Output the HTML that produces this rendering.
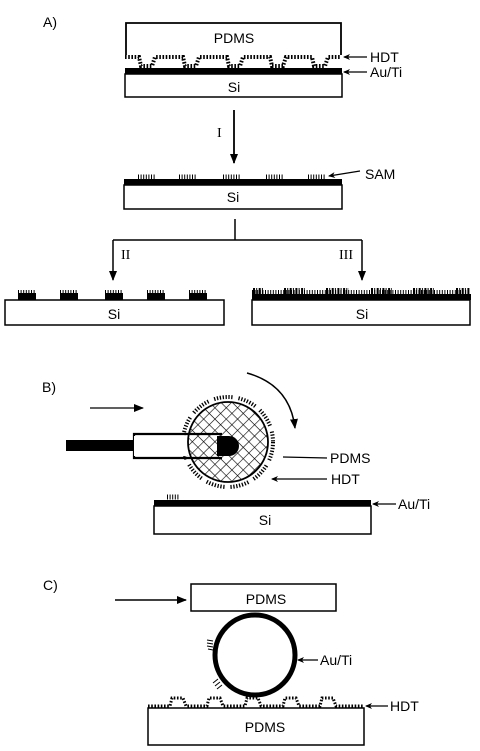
<!DOCTYPE html>
<html><head><meta charset="utf-8"><style>
html,body{margin:0;padding:0;background:#fff;}
svg{display:block;font-family:"Liberation Sans",sans-serif;}
text{font-size:14px;fill:#000;}
</style></head><body>
<svg width="480" height="751" viewBox="0 0 480 751" xmlns="http://www.w3.org/2000/svg">
<defs>
<marker id="ah" markerWidth="10" markerHeight="8" refX="9" refY="4" orient="auto" markerUnits="userSpaceOnUse"><path d="M0,0 L10,4 L0,8 Z" fill="#000"/></marker>
<marker id="ahs" markerWidth="7" markerHeight="6" refX="6" refY="3" orient="auto" markerUnits="userSpaceOnUse"><path d="M0,0 L7,3 L0,6 L2,3 Z" fill="#000"/></marker>
<pattern id="xh" width="8" height="8" patternUnits="userSpaceOnUse" patternTransform="rotate(45)"><path d="M0,0 H8 M0,0 V8" stroke="#000" stroke-width="1.2"/></pattern>
</defs>

<g>
<text x="43" y="27">A)</text>
<path d="M126,55 V23 H341 V55" fill="none" stroke="#000" stroke-width="1.8"/>
<text x="234" y="43" text-anchor="middle">PDMS</text>
<path d="M125,57 H139 L141,66 H152 L155,57 H183 L185,66 H196 L199,57 H227 L229,66 H240 L243,57 H270 L272,66 H283 L286,57 H312 L314,66 H325 L328,57 H341" fill="none" stroke="#000" stroke-width="4" stroke-dasharray="1.6 1.6"/>
<rect x="125" y="68" width="217" height="6" fill="#000"/>
<rect x="125" y="74" width="217" height="23" fill="#fff" stroke="#000" stroke-width="1.5"/>
<text x="234" y="92" text-anchor="middle">Si</text>
<line x1="367" y1="57" x2="344" y2="57" stroke="#000" stroke-width="1.2" marker-end="url(#ahs)"/>
<text x="370" y="62">HDT</text>
<line x1="367" y1="72" x2="344" y2="72" stroke="#000" stroke-width="1.2" marker-end="url(#ahs)"/>
<text x="370" y="77">Au/Ti</text>

<line x1="234" y1="110" x2="234" y2="163" stroke="#000" stroke-width="1.8" marker-end="url(#ah)"/>
<text x="217" y="137" style="font-family:'Liberation Serif',serif;font-size:14px">I</text>

<g stroke="#000" stroke-width="1" stroke-dasharray="1 1.6">
<line x1="138" y1="177" x2="156" y2="177" stroke-width="5"/>
<line x1="179" y1="177" x2="197" y2="177" stroke-width="5"/>
<line x1="223" y1="177" x2="241" y2="177" stroke-width="5"/>
<line x1="266" y1="177" x2="284" y2="177" stroke-width="5"/>
<line x1="308" y1="177" x2="326" y2="177" stroke-width="5"/>
</g>
<rect x="124" y="179" width="218" height="6" fill="#000"/>
<rect x="124" y="185" width="218" height="24" fill="#fff" stroke="#000" stroke-width="1.5"/>
<text x="233" y="202" text-anchor="middle">Si</text>
<line x1="360" y1="171" x2="329" y2="176" stroke="#000" stroke-width="1.2" marker-end="url(#ahs)"/>
<text x="365" y="179">SAM</text>

<path d="M235,219 V240 M113,240 H362" fill="none" stroke="#000" stroke-width="1.5"/>
<line x1="113" y1="240" x2="113" y2="280" stroke="#000" stroke-width="1.5" marker-end="url(#ah)"/>
<line x1="362" y1="240" x2="362" y2="280" stroke="#000" stroke-width="1.5" marker-end="url(#ah)"/>
<text x="121" y="259" style="font-family:'Liberation Serif',serif;font-size:14px">II</text>
<text x="339" y="259" style="font-family:'Liberation Serif',serif;font-size:14px">III</text>

<g>
<rect x="18" y="293" width="18" height="7" fill="#000"/><rect x="60" y="293" width="18" height="7" fill="#000"/><rect x="105" y="293" width="18" height="7" fill="#000"/><rect x="147" y="293" width="18" height="7" fill="#000"/><rect x="189" y="293" width="18" height="7" fill="#000"/>
<g stroke="#000" stroke-width="4" stroke-dasharray="1 1.6"><line x1="18" y1="292" x2="36" y2="292"/><line x1="60" y1="292" x2="78" y2="292"/><line x1="105" y1="292" x2="123" y2="292"/><line x1="147" y1="292" x2="165" y2="292"/><line x1="189" y1="292" x2="207" y2="292"/></g>
</g>
<rect x="5" y="300" width="219" height="25" fill="#fff" stroke="#000" stroke-width="1.5"/>
<text x="114" y="319" text-anchor="middle">Si</text>

<g>
<line x1="252" y1="292" x2="470" y2="292" stroke="#000" stroke-width="4" stroke-dasharray="1 1.6"/>
<g stroke="#000" stroke-width="6" stroke-dasharray="2 1.2 1 1.5"><line x1="253" y1="291" x2="263" y2="291"/><line x1="284" y1="291" x2="305" y2="291"/><line x1="326" y1="291" x2="349" y2="291"/><line x1="371" y1="291" x2="392" y2="291"/><line x1="413" y1="291" x2="434" y2="291"/><line x1="456" y1="291" x2="470" y2="291"/></g>
<rect x="252" y="294" width="219" height="6" fill="#000"/>
</g>
<rect x="252" y="300" width="218" height="25" fill="#fff" stroke="#000" stroke-width="1.5"/>
<text x="362" y="319" text-anchor="middle">Si</text>
</g>

<g>
<text x="42" y="392">B)</text>
<line x1="90" y1="408" x2="143" y2="408" stroke="#000" stroke-width="1.3" marker-end="url(#ah)"/>
<circle cx="228" cy="442" r="45" fill="none" stroke="#000" stroke-width="4" stroke-dasharray="1.3 1.6 1.3 1.6 1.3 1.6 1.3 1.6 1.3 1.6 1.3 1.6 1.3 6"/>
<circle cx="228" cy="442" r="40" fill="url(#xh)" stroke="#000" stroke-width="1.8"/>
<rect x="66" y="440" width="68" height="11" fill="#000"/>
<path d="M222,434 H134 V458 H222" fill="none" stroke="#000" stroke-width="2.2"/>
<rect x="134" y="436" width="53" height="20" fill="#fff"/>
<path d="M217,436 H229 A10,10 0 0 1 229,456 H217 Z" fill="#000"/>
<path d="M247,373 Q290,385 295,428" fill="none" stroke="#000" stroke-width="1.5" marker-end="url(#ah)"/>
<line x1="327" y1="458" x2="283" y2="457" stroke="#000" stroke-width="1.2"/>
<text x="330" y="463">PDMS</text>
<line x1="327" y1="479" x2="272" y2="479" stroke="#000" stroke-width="1.2" marker-end="url(#ahs)"/>
<text x="331" y="484">HDT</text>
<line x1="167" y1="497" x2="180" y2="497" stroke="#000" stroke-width="5" stroke-dasharray="1 1.6"/>
<rect x="154" y="500" width="217" height="6" fill="#000"/>
<rect x="154" y="506" width="217" height="28" fill="#fff" stroke="#000" stroke-width="1.5"/>
<text x="265" y="525" text-anchor="middle">Si</text>
<line x1="396" y1="504" x2="373" y2="504" stroke="#000" stroke-width="1.2" marker-end="url(#ahs)"/>
<text x="398" y="509">Au/Ti</text>
</g>

<g>
<text x="43" y="590">C)</text>
<line x1="115" y1="600" x2="186" y2="600" stroke="#000" stroke-width="1.5" marker-end="url(#ah)"/>
<rect x="191" y="584" width="145" height="27" fill="#fff" stroke="#000" stroke-width="1.5"/>
<text x="266" y="604" text-anchor="middle">PDMS</text>
<circle cx="255" cy="655" r="40" fill="#fff" stroke="#000" stroke-width="5"/>
<path d="M207,640 L213,641 M207,643 L213,644 M207,646 L213,647 M208,649 L213,650 M213,683 L218,679 M215,686 L220,682 M217,689 L222,685" stroke="#000" stroke-width="1"/>
<line x1="318" y1="660" x2="298" y2="660" stroke="#000" stroke-width="1.2" marker-end="url(#ahs)"/>
<text x="320" y="665">Au/Ti</text>
<path d="M148,706 H170 L172,698 H183 L186,706 H207 L209,698 H220 L223,706 H245 L247,698 H258 L261,706 H283 L285,698 H296 L299,706 H320 L322,698 H333 L336,706 H364" fill="none" stroke="#000" stroke-width="3" stroke-dasharray="1.6 1.6"/>
<rect x="148" y="708" width="216" height="37" fill="#fff" stroke="#000" stroke-width="1.5"/>
<text x="265" y="732" text-anchor="middle">PDMS</text>
<line x1="388" y1="706" x2="366" y2="706" stroke="#000" stroke-width="1.2" marker-end="url(#ahs)"/>
<text x="390" y="711">HDT</text>
</g>
</svg>
</body></html>
